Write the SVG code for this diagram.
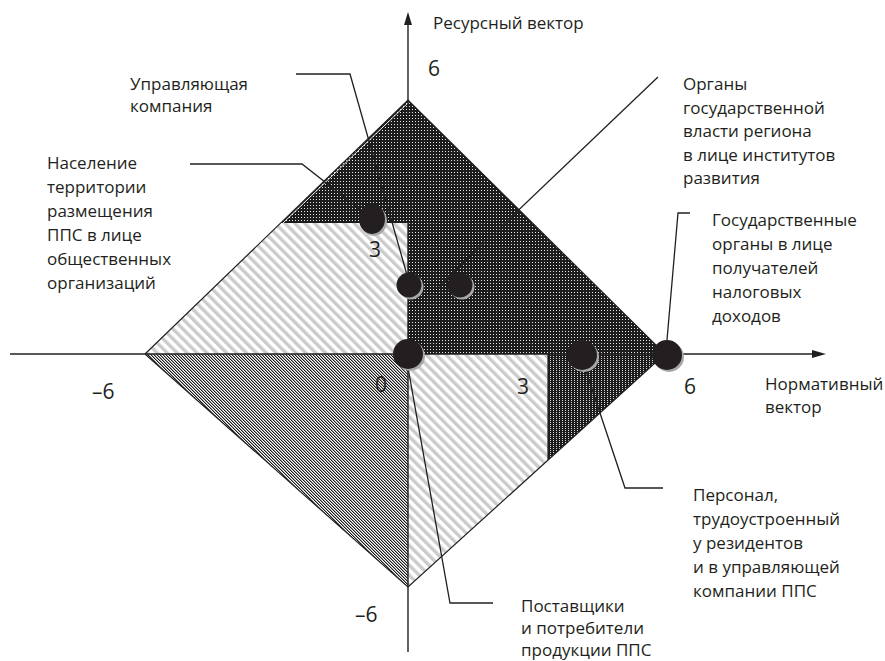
<svg xmlns="http://www.w3.org/2000/svg" width="885" height="661" viewBox="0 0 885 661">
  <style>
    .lbl { font-family: "Open Sans", "Noto Sans", sans-serif; font-size: 17px; fill: #231f20; }
    .num { font-family: "Open Sans", "Noto Sans", sans-serif; font-size: 21px; fill: #231f20; }
    .edge { stroke: #231f20; stroke-width: 1.2; fill: none; }
    .lead { stroke: #231f20; stroke-width: 1.3; fill: none; }
    .axis { stroke: #231f20; stroke-width: 1.4; fill: none; }
    .dot { fill: #231f20; }
    .shadow { fill: #a8a8a8; }
  </style>
  <defs>
    <!-- dark field with a fine grid of light dots -->
    <pattern id="dots" width="3" height="3" patternUnits="userSpaceOnUse">
      <rect width="3" height="3" fill="#1c1c1c"/>
      <rect x="1" y="1" width="1" height="1" fill="#e8e8e8"/>
    </pattern>
    <!-- dark field with columns of light dots -->
    <pattern id="dots2" width="3" height="2" patternUnits="userSpaceOnUse">
      <rect width="3" height="2" fill="#1c1c1c"/>
      <rect x="1" y="0" width="1" height="1" fill="#d8d8d8"/>
    </pattern>
    <!-- wide light-grey diagonal stripes -->
    <pattern id="lightStripes" width="7" height="7" patternUnits="userSpaceOnUse" patternTransform="rotate(-45)">
      <rect width="7" height="7" fill="#ffffff"/>
      <rect width="3.4" height="7" fill="#cbcbcb"/>
    </pattern>
    <!-- dense black diagonal hatch -->
    <pattern id="hatch" width="3" height="3" patternUnits="userSpaceOnUse">
      <rect width="3" height="3" fill="#ffffff"/>
      <rect x="0" y="0" width="1" height="1" fill="#1c1c1c"/>
      <rect x="1" y="1" width="1" height="1" fill="#1c1c1c"/>
      <rect x="2" y="2" width="1" height="1" fill="#1c1c1c"/>
      <rect x="1" y="0" width="1" height="1" fill="#9a9a9a"/>
      <rect x="2" y="1" width="1" height="1" fill="#9a9a9a"/>
      <rect x="0" y="2" width="1" height="1" fill="#9a9a9a"/>
    </pattern>
  </defs>

  <rect width="885" height="661" fill="#ffffff"/>

  <!-- quadrant fills -->
  <g id="fields">
    <polygon points="281,223 408,223 408,354 145,354" fill="url(#lightStripes)"/>
    <polygon points="145,354 408,354 408,587" fill="url(#hatch)"/>
    <polygon points="408,354 548,354 548,460 408,587" fill="url(#lightStripes)"/>
    <polygon points="408,100 665,354 408,354 408,223 281,223" fill="url(#dots)"/>
    <polygon points="548,354 665,354 548,460" fill="url(#dots2)"/>
    <line x1="409.5" y1="101.5" x2="283" y2="223" stroke="#ffffff" stroke-width="0.9"/>
    <line x1="663" y1="356.5" x2="549" y2="460" stroke="#ffffff" stroke-width="0.9"/>
  </g>

  <!-- diamond outline -->
  <g id="outline">
    <polyline class="edge" points="145,354 408,100 665,354 408,587 145,354"/>
    <line class="edge" x1="548" y1="354" x2="548" y2="460"/>
  </g>

  <!-- axes -->
  <g id="axes">
    <line class="axis" x1="10" y1="354" x2="814" y2="354"/>
    <polygon points="826,354 812,350 812,358" fill="#231f20"/>
    <line class="axis" x1="408" y1="652" x2="408" y2="22"/>
    <polygon points="408,12 404,25 412,25" fill="#231f20"/>
  </g>

  <!-- leader lines -->
  <g id="connectors">
    <polyline class="lead" points="296,74 350,74 407,275"/>
    <polyline class="lead" points="190,164 302,164 372,219"/>
    <line class="lead" x1="658" y1="77" x2="437" y2="288"/>
    <polyline class="lead" points="690,213 678,213 667,340"/>
    <polyline class="lead" points="663,488 625,488 584,365"/>
    <polyline class="lead" points="493,603 450,603 407,362"/>
  </g>

  <!-- stakeholder markers -->
  <g id="m-uk">
    <ellipse class="shadow" cx="374" cy="221" rx="13" ry="15"/>
    <ellipse class="dot" cx="372" cy="219" rx="13" ry="15"/>
  </g>
  <g id="m-org">
    <circle class="shadow" cx="411" cy="287" r="12.5"/>
    <circle class="dot" cx="409" cy="285" r="12.5"/>
  </g>
  <g id="m-gov">
    <circle class="shadow" cx="462" cy="287" r="12.5"/>
    <circle class="dot" cx="460" cy="285" r="12.5"/>
  </g>
  <g id="m-origin">
    <circle class="shadow" cx="410" cy="356" r="15"/>
    <circle class="dot" cx="408" cy="354" r="15"/>
  </g>
  <g id="m-staff">
    <circle class="shadow" cx="584" cy="357" r="15"/>
    <circle class="dot" cx="582" cy="355" r="15"/>
  </g>
  <g id="m-tax">
    <circle class="shadow" cx="669" cy="357" r="15"/>
    <circle class="dot" cx="667" cy="355" r="15"/>
  </g>

  <!-- scale values -->
  <g id="ticks">
    <text class="num" x="428" y="76">6</text>
    <text class="num" x="369" y="257">3</text>
    <text class="num" x="375" y="392">0</text>
    <text class="num" x="517" y="394">3</text>
    <text class="num" x="684" y="394">6</text>
    <text class="num" x="92" y="399">–6</text>
    <text class="num" x="355" y="622">–6</text>
  </g>

  <!-- axis titles -->
  <g id="axis-titles">
    <text class="lbl" x="433" y="29">Ресурсный вектор</text>
    <text class="lbl" x="765" y="390">Нормативный</text>
    <text class="lbl" x="765" y="413">вектор</text>
  </g>

  <!-- stakeholder labels -->
  <g id="n-uk">
    <text class="lbl" x="130" y="90">Управляющая</text>
    <text class="lbl" x="130" y="112">компания</text>
  </g>
  <g id="n-pop">
    <text class="lbl" x="47" y="169">Население</text>
    <text class="lbl" x="47" y="193">территории</text>
    <text class="lbl" x="47" y="217">размещения</text>
    <text class="lbl" x="47" y="241">ППС в лице</text>
    <text class="lbl" x="47" y="265">общественных</text>
    <text class="lbl" x="47" y="289">организаций</text>
  </g>
  <g id="n-region">
    <text class="lbl" x="683" y="90">Органы</text>
    <text class="lbl" x="683" y="113.5">государственной</text>
    <text class="lbl" x="683" y="137">власти региона</text>
    <text class="lbl" x="683" y="160.5">в лице институтов</text>
    <text class="lbl" x="683" y="184">развития</text>
  </g>
  <g id="n-tax">
    <text class="lbl" x="712" y="226">Государственные</text>
    <text class="lbl" x="712" y="250">органы в лице</text>
    <text class="lbl" x="712" y="274">получателей</text>
    <text class="lbl" x="712" y="298">налоговых</text>
    <text class="lbl" x="712" y="322">доходов</text>
  </g>
  <g id="n-staff">
    <text class="lbl" x="693" y="501">Персонал,</text>
    <text class="lbl" x="693" y="525">трудоустроенный</text>
    <text class="lbl" x="693" y="549">у резидентов</text>
    <text class="lbl" x="693" y="573">и в управляющей</text>
    <text class="lbl" x="693" y="597">компании ППС</text>
  </g>
  <g id="n-supp">
    <text class="lbl" x="521" y="612">Поставщики</text>
    <text class="lbl" x="521" y="634">и потребители</text>
    <text class="lbl" x="521" y="656">продукции ППС</text>
  </g>
</svg>
